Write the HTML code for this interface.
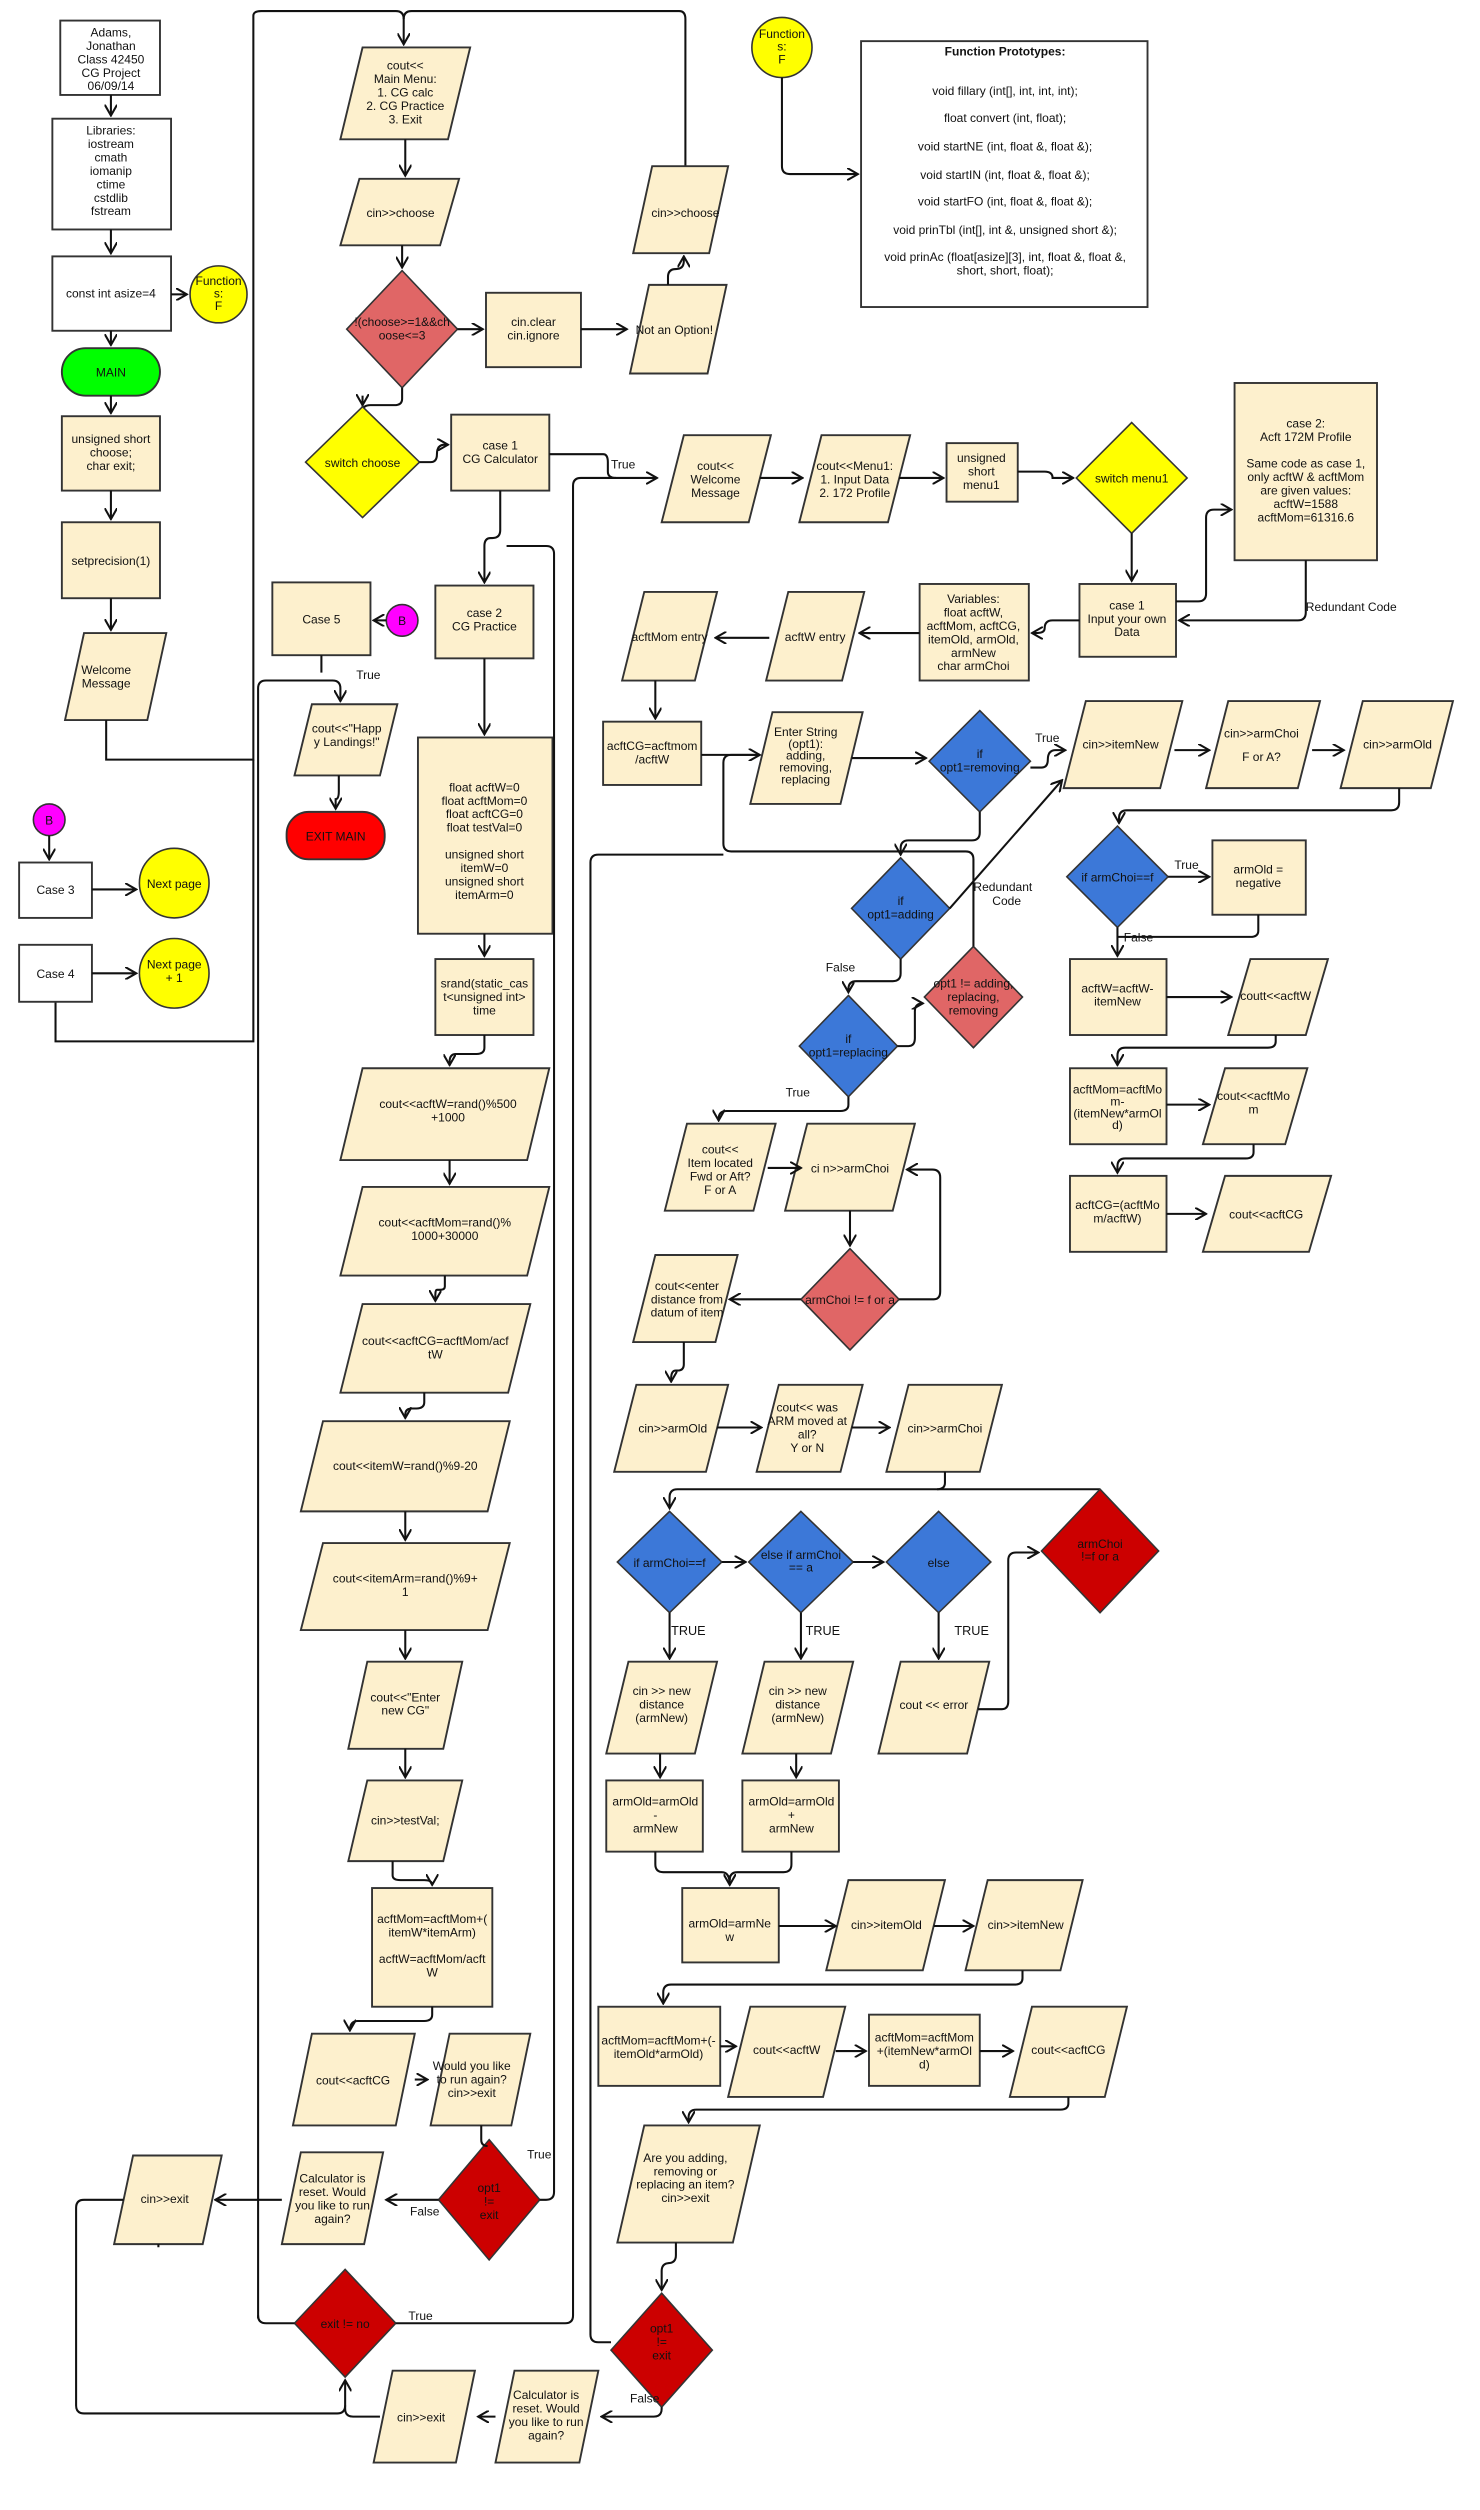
<!DOCTYPE html>
<html><head><meta charset="utf-8"><style>
html,body{margin:0;padding:0;background:#fff;}
svg{display:block;}
text{font-family:"Liberation Sans",sans-serif;font-size:7.6px;fill:#111;text-anchor:middle;}
.s{fill:#fdf0cd;stroke:#333;stroke-width:1.2;}
.w{fill:#fff;stroke:#333;stroke-width:1.2;}
.c{fill:none;stroke:#111;stroke-width:1.3;}
.bl{fill:#3c78d8;stroke:#333;stroke-width:1;}
.rd{fill:#e06666;stroke:#333;stroke-width:1;}
.dr{fill:#cc0000;stroke:#333;stroke-width:1;}
.ye{fill:#ffff00;stroke:#333;stroke-width:1;}
.l{text-anchor:start;}
</style></head><body>
<svg width="1480" height="2510" viewBox="0 0 935 1586" xmlns="http://www.w3.org/2000/svg">
<defs><marker id="a" markerWidth="8" markerHeight="8" refX="7" refY="4" orient="auto" markerUnits="userSpaceOnUse"><path d="M0,0 L7,4 L0,8" fill="none" stroke="#111" stroke-width="1.3"/></marker></defs>

<!-- LEFT COLUMN -->
<rect class="w" x="38" y="13" width="63" height="47"/>
<text x="70" y="23">Adams,<tspan x="70" dy="8.5">Jonathan</tspan><tspan x="70" dy="8.5">Class 42450</tspan><tspan x="70" dy="8.5">CG Project</tspan><tspan x="70" dy="8.5">06/09/14</tspan></text>
<rect class="w" x="33" y="75" width="75" height="70"/>
<text x="70" y="85">Libraries:<tspan x="70" dy="8.5">iostream</tspan><tspan x="70" dy="8.5">cmath</tspan><tspan x="70" dy="8.5">iomanip</tspan><tspan x="70" dy="8.5">ctime</tspan><tspan x="70" dy="8.5">cstdlib</tspan><tspan x="70" dy="8.5">fstream</tspan></text>
<rect class="w" x="33" y="162" width="75" height="47"/>
<text x="70" y="188">const int asize=4</text>
<circle class="ye" cx="138" cy="186" r="18"/>
<text x="138" y="180">Function<tspan x="138" dy="8">s:</tspan><tspan x="138" dy="8">F</tspan></text>
<rect x="39" y="220" width="62" height="30" rx="15" fill="#00ff00" stroke="#333" stroke-width="1.2"/>
<text x="70" y="238">MAIN</text>
<rect class="s" x="39" y="263" width="62" height="47"/>
<text x="70" y="280">unsigned short<tspan x="70" dy="8.5">choose;</tspan><tspan x="70" dy="8.5">char exit;</tspan></text>
<rect class="s" x="39" y="330" width="62" height="48"/>
<text x="70" y="357">setprecision(1)</text>
<polygon class="s" points="53,400 105,400 93,455 41,455"/>
<text x="67" y="426">Welcome<tspan x="67" dy="8.5">Message</tspan></text>

<path class="c" d="M70,60 V73" marker-end="url(#a)"/>
<path class="c" d="M70,145 V160" marker-end="url(#a)"/>
<path class="c" d="M108,186 H118" marker-end="url(#a)"/>
<path class="c" d="M70,209 V218" marker-end="url(#a)"/>
<path class="c" d="M70,250 V261" marker-end="url(#a)"/>
<path class="c" d="M70,310 V328" marker-end="url(#a)"/>
<path class="c" d="M70,378 V398" marker-end="url(#a)"/>
<path class="c" d="M67,455 V480 H160 V10 Q160,7 165,7 H250 Q255,7 255,12 V28" marker-end="url(#a)"/>
<path class="c" d="M255,12 Q255,7 260,7 H429 Q433,7 433,12 V105"/>
<path class="c" d="M35,633 V658 H160 V480"/>

<circle cx="31" cy="518" r="10" fill="#ff00ff" stroke="#333"/>
<text x="31" y="521">B</text>
<rect class="w" x="12" y="545" width="46" height="35"/>
<text x="35" y="565">Case 3</text>
<circle class="ye" cx="110" cy="558" r="22"/>
<text x="110" y="561">Next page</text>
<rect class="w" x="12" y="597" width="46" height="36"/>
<text x="35" y="618">Case 4</text>
<circle class="ye" cx="110" cy="615" r="22"/>
<text x="110" y="612">Next page<tspan x="110" dy="8.5">+ 1</tspan></text>
<path class="c" d="M31,528 V543" marker-end="url(#a)"/>
<path class="c" d="M58,562 H86" marker-end="url(#a)"/>
<path class="c" d="M58,615 H86" marker-end="url(#a)"/>

<!-- CENTER COLUMN -->
<polygon class="s" points="229,30 297,30 283,88 215,88"/>
<text x="256" y="44">cout&lt;&lt;<tspan x="256" dy="8.5">Main Menu:</tspan><tspan x="256" dy="8.5">1. CG calc</tspan><tspan x="256" dy="8.5">2. CG Practice</tspan><tspan x="256" dy="8.5">3. Exit</tspan></text>
<polygon class="s" points="227,113 290,113 278,155 215,155"/>
<text x="253" y="137">cin&gt;&gt;choose</text>
<polygon class="rd" points="254,171 289,208 254,245 219,208"/>
<text x="254" y="206">!(choose&gt;=1&amp;&amp;ch<tspan x="254" dy="8.5">oose&lt;=3</tspan></text>
<rect class="s" x="307" y="185" width="60" height="47"/>
<text x="337" y="206">cin.clear<tspan x="337" dy="8.5">cin.ignore</tspan></text>
<polygon class="s" points="410,180 459,180 447,236 398,236"/>
<text x="426" y="211">Not an Option!</text>
<polygon class="s" points="412,105 460,105 448,160 400,160"/>
<text x="433" y="137">cin&gt;&gt;choose</text>
<path class="c" d="M256,88 V111" marker-end="url(#a)"/>
<path class="c" d="M254,155 V169" marker-end="url(#a)"/>
<path class="c" d="M289,208 H305" marker-end="url(#a)"/>
<path class="c" d="M367,208 H396" marker-end="url(#a)"/>
<path class="c" d="M422,180 V175 Q422,170 427,170 Q432,170 432,165 V162" marker-end="url(#a)"/>
<path class="c" d="M254,245 V252 Q254,256 249,256 H234 Q229,256 229,260 V255" />
<path class="c" d="M229,250 V256" marker-end="url(#a)"/>

<polygon class="ye" points="229,257 265,292 229,327 193,292"/>
<text x="229" y="295">switch choose</text>
<rect class="s" x="285" y="262" width="62" height="48"/>
<text x="316" y="284">case 1<tspan x="316" dy="8.5">CG Calculator</tspan></text>
<path class="c" d="M265,292 H272 Q276,292 276,287 Q276,281 281,281 H283" marker-end="url(#a)"/>
<path class="c" d="M347,287 H381 Q384,287 384,292 V298 Q384,302 389,302 H415" marker-end="url(#a)"/>
<text x="386" y="296" class="l">True</text>

<rect class="s" x="275" y="370" width="62" height="46"/>
<text x="306" y="390">case 2<tspan x="306" dy="8.5">CG Practice</tspan></text>
<path class="c" d="M316,310 V335 Q316,340 311,340 H310 Q306,340 306,345 V368" marker-end="url(#a)"/>
<rect class="s" x="172" y="368" width="62" height="46"/>
<text x="203" y="394">Case 5</text>
<circle cx="254" cy="392" r="10" fill="#ff00ff" stroke="#333"/>
<text x="254" y="395">B</text>
<path class="c" d="M244,392 H236" marker-end="url(#a)"/>
<polygon class="s" points="197,445 251,445 240,490 186,490"/>
<text x="219" y="463">cout&lt;&lt;"Happ<tspan x="219" dy="8.5">y Landings!"</tspan></text>
<path class="c" d="M203,414 V425" />
<path class="c" d="M163,1465 V435 Q163,430 168,430 H210 Q215,430 215,435 V443" marker-end="url(#a)"/>
<text x="225" y="429" class="l">True</text>
<rect x="181" y="513" width="62" height="30" rx="14" fill="#ff0000" stroke="#333" stroke-width="1.2"/>
<text x="212" y="531">EXIT MAIN</text>
<path class="c" d="M214,490 V500 Q214,505 212,505 V511" marker-end="url(#a)"/>

<rect class="s" x="264" y="466" width="85" height="124"/>
<text x="306" y="500">float acftW=0<tspan x="306" dy="8.5">float acftMom=0</tspan><tspan x="306" dy="8.5">float acftCG=0</tspan><tspan x="306" dy="8.5">float testVal=0</tspan><tspan x="306" dy="17">unsigned short</tspan><tspan x="306" dy="8.5">itemW=0</tspan><tspan x="306" dy="8.5">unsigned short</tspan><tspan x="306" dy="8.5">itemArm=0</tspan></text>
<path class="c" d="M306,416 V464" marker-end="url(#a)"/>
<rect class="s" x="275" y="606" width="62" height="48"/>
<text x="306" y="624">srand(static_cas<tspan x="306" dy="8.5">t&lt;unsigned int&gt;</tspan><tspan x="306" dy="8.5">time</tspan></text>
<path class="c" d="M306,590 V604" marker-end="url(#a)"/>
<polygon class="s" points="229,675 347,675 333,733 215,733"/>
<text x="283" y="700">cout&lt;&lt;acftW=rand()%500<tspan x="283" dy="8.5">+1000</tspan></text>
<path class="c" d="M306,654 V662 Q306,666 301,666 H288 Q284,666 284,671 V673" marker-end="url(#a)"/>
<polygon class="s" points="229,750 347,750 333,806 215,806"/>
<text x="281" y="775">cout&lt;&lt;acftMom=rand()%<tspan x="281" dy="8.5">1000+30000</tspan></text>
<path class="c" d="M284,733 V748" marker-end="url(#a)"/>
<polygon class="s" points="229,824 335,824 321,880 215,880"/>
<text x="275" y="850">cout&lt;&lt;acftCG=acftMom/acf<tspan x="275" dy="8.5">tW</tspan></text>
<path class="c" d="M281,806 V813 Q281,815 278,815 H276 Q275,815 275,818 V822" marker-end="url(#a)"/>
<polygon class="s" points="204,898 322,898 308,955 190,955"/>
<text x="256" y="929">cout&lt;&lt;itemW=rand()%9-20</text>
<path class="c" d="M268,880 V886 Q268,890 263,890 H260 Q256,890 256,894 V896" marker-end="url(#a)"/>
<polygon class="s" points="204,975 322,975 308,1030 190,1030"/>
<text x="256" y="1000">cout&lt;&lt;itemArm=rand()%9+<tspan x="256" dy="8.5">1</tspan></text>
<path class="c" d="M256,955 V973" marker-end="url(#a)"/>
<polygon class="s" points="232,1050 292,1050 280,1105 220,1105"/>
<text x="256" y="1075">cout&lt;&lt;"Enter<tspan x="256" dy="8.5">new CG"</tspan></text>
<path class="c" d="M256,1030 V1048" marker-end="url(#a)"/>
<polygon class="s" points="232,1125 292,1125 280,1176 220,1176"/>
<text x="256" y="1153">cin&gt;&gt;testVal;</text>
<path class="c" d="M256,1105 V1123" marker-end="url(#a)"/>
<rect class="s" x="235" y="1193" width="76" height="75"/>
<text x="273" y="1215">acftMom=acftMom+(<tspan x="273" dy="8.5">itemW*itemArm)</tspan><tspan x="273" dy="17">acftW=acftMom/acft</tspan><tspan x="273" dy="8.5">W</tspan></text>
<path class="c" d="M248,1176 V1185 Q248,1188 253,1188 H268 Q273,1188 273,1191" marker-end="url(#a)"/>
<polygon class="s" points="197,1285 262,1285 250,1343 185,1343"/>
<text x="223" y="1317">cout&lt;&lt;acftCG</text>
<path class="c" d="M273,1268 V1273 Q273,1277 268,1277 H226 Q221,1277 221,1283" marker-end="url(#a)"/>
<polygon class="s" points="284,1285 335,1285 323,1343 272,1343"/>
<text x="298" y="1308">Would you like<tspan x="298" dy="8.5">to run again?</tspan><tspan x="298" dy="8.5">cin&gt;&gt;exit</tspan></text>
<path class="c" d="M262,1314 H270" marker-end="url(#a)"/>
<polygon class="dr" points="309,1352 341,1390 309,1428 277,1390"/>
<text x="309" y="1385">opt1<tspan x="309" dy="8.5">!=</tspan><tspan x="309" dy="8.5">exit</tspan></text>
<path class="c" d="M304,1343 V1352 Q304,1356 308,1356" />
<path class="c" d="M341,1390 H345 Q350,1390 350,1385 V350 Q350,345 345,345 H320" />
<text x="333" y="1364" class="l">True</text>
<polygon class="s" points="190,1360 242,1360 230,1418 178,1418"/>
<text x="210" y="1379">Calculator is<tspan x="210" dy="8.5">reset. Would</tspan><tspan x="210" dy="8.5">you like to run</tspan><tspan x="210" dy="8.5">again?</tspan></text>
<path class="c" d="M277,1390 H244" marker-end="url(#a)"/>
<text x="259" y="1400" class="l">False</text>
<polygon class="s" points="84,1362 140,1362 128,1418 72,1418"/>
<text x="104" y="1392">cin&gt;&gt;exit</text>
<path class="c" d="M178,1390 H136" marker-end="url(#a)"/>
<polygon class="dr" points="218,1434 250,1468 218,1502 186,1468"/>
<text x="218" y="1471">exit != no</text>
<path class="c" d="M186,1468 H168 Q163,1468 163,1463"/>
<path class="c" d="M250,1468 H357 Q362,1468 362,1463 V307 Q362,302 367,302 H389"/>
<text x="258" y="1466" class="l">True</text>
<polygon class="s" points="248,1498 300,1498 288,1556 236,1556"/>
<text x="266" y="1530">cin&gt;&gt;exit</text>
<polygon class="s" points="325,1498 378,1498 366,1556 313,1556"/>
<text x="345" y="1516">Calculator is<tspan x="345" dy="8.5">reset. Would</tspan><tspan x="345" dy="8.5">you like to run</tspan><tspan x="345" dy="8.5">again?</tspan></text>
<path class="c" d="M313,1527 H302" marker-end="url(#a)"/>
<path class="c" d="M240,1527 H223 Q218,1527 218,1522 V1504" marker-end="url(#a)"/>
<path class="c" d="M100,1418 V1420 M78,1390 H53 Q48,1390 48,1395 V1520 Q48,1525 53,1525 H213 Q218,1525 218,1520"/>

<!-- RIGHT: top -->
<circle class="ye" cx="494" cy="30" r="19"/>
<text x="494" y="24">Function<tspan x="494" dy="8">s:</tspan><tspan x="494" dy="8">F</tspan></text>
<path class="c" d="M494,49 V105 Q494,110 499,110 H542" marker-end="url(#a)"/>
<rect class="w" x="544" y="26" width="181" height="168"/>
<text x="635" y="35" style="font-weight:bold">Function Prototypes:</text>
<text x="635" y="60">void fillary (int[], int, int, int);</text>
<text x="635" y="77">float convert (int, float);</text>
<text x="635" y="95">void startNE (int, float &amp;, float &amp;);</text>
<text x="635" y="113">void startIN (int, float &amp;, float &amp;);</text>
<text x="635" y="130">void startFO (int, float &amp;, float &amp;);</text>
<text x="635" y="148">void prinTbl (int[], int &amp;, unsigned short &amp;);</text>
<text x="635" y="165">void prinAc (float[asize][3], int, float &amp;, float &amp;,<tspan x="635" dy="8.5">short, short, float);</tspan></text>

<polygon class="s" points="432,275 487,275 473,330 418,330"/>
<text x="452" y="297">cout&lt;&lt;<tspan x="452" dy="8.5">Welcome</tspan><tspan x="452" dy="8.5">Message</tspan></text>
<polygon class="s" points="519,275 575,275 561,330 505,330"/>
<text x="540" y="297">cout&lt;&lt;Menu1:<tspan x="540" dy="8.5">1. Input Data</tspan><tspan x="540" dy="8.5">2. 172 Profile</tspan></text>
<path class="c" d="M480,302 H507" marker-end="url(#a)"/>
<rect class="s" x="598" y="280" width="45" height="37"/>
<text x="620" y="292">unsigned<tspan x="620" dy="8.5">short</tspan><tspan x="620" dy="8.5">menu1</tspan></text>
<path class="c" d="M568,302 H596" marker-end="url(#a)"/>
<polygon class="ye" points="715,267 750,302 715,337 680,302"/>
<text x="715" y="305">switch menu1</text>
<path class="c" d="M643,298 H660 Q665,298 665,302 H678" marker-end="url(#a)"/>
<rect class="s" x="780" y="242" width="90" height="112"/>
<text x="825" y="270">case 2:<tspan x="825" dy="8.5">Acft 172M Profile</tspan><tspan x="825" dy="17">Same code as case 1,</tspan><tspan x="825" dy="8.5">only acftW &amp; acftMom</tspan><tspan x="825" dy="8.5">are given values:</tspan><tspan x="825" dy="8.5">acftW=1588</tspan><tspan x="825" dy="8.5">acftMom=61316.6</tspan></text>
<rect class="s" x="682" y="369" width="61" height="46"/>
<text x="712" y="385">case 1<tspan x="712" dy="8.5">Input your own</tspan><tspan x="712" dy="8.5">Data</tspan></text>
<path class="c" d="M715,337 V367" marker-end="url(#a)"/>
<path class="c" d="M743,380 H757 Q762,380 762,375 V327 Q762,322 767,322 H778" marker-end="url(#a)"/>
<path class="c" d="M825,354 V387 Q825,392 820,392 H745" marker-end="url(#a)"/>
<text x="825" y="386" class="l">Redundant Code</text>
<rect class="s" x="581" y="369" width="69" height="61"/>
<text x="615" y="381">Variables:<tspan x="615" dy="8.5">float acftW,</tspan><tspan x="615" dy="8.5">acftMom, acftCG,</tspan><tspan x="615" dy="8.5">itemOld, armOld,</tspan><tspan x="615" dy="8.5">armNew</tspan><tspan x="615" dy="8.5">char armChoi</tspan></text>
<path class="c" d="M682,392 H665 Q660,392 660,397 Q660,400 655,400 H652" marker-end="url(#a)"/>
<polygon class="s" points="498,374 546,374 532,430 484,430"/>
<text x="515" y="405">acftW entry</text>
<path class="c" d="M581,400 H543" marker-end="url(#a)"/>
<polygon class="s" points="407,374 453,374 439,430 393,430"/>
<text x="423" y="405">acftMom entry</text>
<path class="c" d="M486,403 H452" marker-end="url(#a)"/>
<rect class="s" x="381" y="456" width="62" height="40"/>
<text x="412" y="474">acftCG=acftmom<tspan x="412" dy="8.5">/acftW</tspan></text>
<path class="c" d="M414,430 V454" marker-end="url(#a)"/>
<polygon class="s" points="488,450 545,450 531,508 474,508"/>
<text x="509" y="465">Enter String<tspan x="509" dy="7.5">(opt1):</tspan><tspan x="509" dy="7.5">adding,</tspan><tspan x="509" dy="7.5">removing,</tspan><tspan x="509" dy="7.5">replacing</tspan></text>
<path class="c" d="M443,477 H480" marker-end="url(#a)"/>
<path class="c" d="M538,479 H585" marker-end="url(#a)"/>
<polygon class="bl" points="619,449 651,481 619,513 587,481"/>
<text x="619" y="479">if<tspan x="619" dy="8.5">opt1=removing</tspan></text>
<polygon class="s" points="686,443 747,443 733,498 672,498"/>
<text x="708" y="473">cin&gt;&gt;itemNew</text>
<path class="c" d="M651,485 H658 Q662,485 662,480 Q662,474 667,474 H673" marker-end="url(#a)"/>
<text x="654" y="469" class="l">True</text>
<polygon class="s" points="776,443 834,443 820,498 762,498"/>
<text x="797" y="466">cin&gt;&gt;armChoi<tspan x="797" dy="15">F or A?</tspan></text>
<path class="c" d="M742,474 H764" marker-end="url(#a)"/>
<polygon class="s" points="861,443 918,443 904,498 847,498"/>
<text x="883" y="473">cin&gt;&gt;armOld</text>
<path class="c" d="M829,474 H849" marker-end="url(#a)"/>
<path class="c" d="M884,498 V507 Q884,512 879,512 H712 Q707,512 707,517 V520" marker-end="url(#a)"/>
<polygon class="bl" points="706,522 738,554 706,586 674,554"/>
<text x="706" y="557">if armChoi==f</text>
<rect class="s" x="766" y="531" width="59" height="47"/>
<text x="795" y="552">armOld =<tspan x="795" dy="8.5">negative</tspan></text>
<path class="c" d="M738,554 H764" marker-end="url(#a)"/>
<text x="742" y="549" class="l">True</text>
<path class="c" d="M795,578 V588 Q795,592 790,592 H706"/>
<text x="710" y="595" class="l">False</text>
<path class="c" d="M706,586 V604" marker-end="url(#a)"/>
<rect class="s" x="676" y="606" width="61" height="48"/>
<text x="706" y="627">acftW=acftW-<tspan x="706" dy="8.5">itemNew</tspan></text>
<polygon class="s" points="790,606 839,606 825,654 776,654"/>
<text x="806" y="632">coutt&lt;&lt;acftW</text>
<path class="c" d="M737,630 H778" marker-end="url(#a)"/>
<path class="c" d="M806,654 V658 Q806,662 801,662 H711 Q706,662 706,667 V673" marker-end="url(#a)"/>
<rect class="s" x="676" y="675" width="61" height="48"/>
<text x="706" y="691">acftMom=acftMo<tspan x="706" dy="7.5">m-</tspan><tspan x="706" dy="7.5">(itemNew*armOl</tspan><tspan x="706" dy="7.5">d)</tspan></text>
<polygon class="s" points="774,675 826,675 812,723 760,723"/>
<text x="792" y="695">cout&lt;&lt;acftMo<tspan x="792" dy="8.5">m</tspan></text>
<path class="c" d="M737,698 H764" marker-end="url(#a)"/>
<path class="c" d="M792,723 V728 Q792,732 787,732 H711 Q706,732 706,737 V741" marker-end="url(#a)"/>
<rect class="s" x="676" y="743" width="61" height="48"/>
<text x="706" y="764">acftCG=(acftMo<tspan x="706" dy="8.5">m/acftW)</tspan></text>
<polygon class="s" points="774,743 841,743 827,791 760,791"/>
<text x="800" y="770">cout&lt;&lt;acftCG</text>
<path class="c" d="M737,767 H762" marker-end="url(#a)"/>

<path class="c" d="M619,513 V526 Q619,531 614,531 H574 Q569,531 569,536 V540" marker-end="url(#a)"/>
<polygon class="bl" points="569,542 600,574 569,606 538,574"/>
<text x="569" y="572">if<tspan x="569" dy="8.5">opt1=adding</tspan></text>
<path class="c" d="M600,574 L671,493" marker-end="url(#a)"/>
<text x="615" y="563" class="l">Redundant</text>
<text x="636" y="572">Code</text>
<polygon class="rd" points="615,598 646,630 615,662 584,630"/>
<text x="615" y="624">opt1 != adding,<tspan x="615" dy="8.5">replacing,</tspan><tspan x="615" dy="8.5">removing</tspan></text>
<path class="c" d="M615,598 V543 Q615,538 610,538 H462 Q457,538 457,533 V482 Q457,477 462,477 H480"/>
<path class="c" d="M569,606 V615 Q569,620 564,620 H541 Q536,620 536,625 V627" marker-end="url(#a)"/>
<text x="531" y="614">False</text>
<polygon class="bl" points="536,629 567,661 536,693 505,661"/>
<text x="536" y="659">if<tspan x="536" dy="8.5">opt1=replacing</tspan></text>
<path class="c" d="M567,661 H574 Q578,661 578,656 V639 Q578,634 583,634" marker-end="url(#a)"/>
<path class="c" d="M536,693 V698 Q536,702 531,702 H459 Q454,702 454,707 V708" marker-end="url(#a)"/>
<text x="504" y="693">True</text>
<polygon class="s" points="434,710 490,710 476,765 420,765"/>
<text x="455" y="729">cout&lt;&lt;<tspan x="455" dy="8.5">Item located</tspan><tspan x="455" dy="8.5">Fwd or Aft?</tspan><tspan x="455" dy="8.5">F or A</tspan></text>
<polygon class="s" points="510,710 578,710 564,765 496,765"/>
<text x="537" y="741">ci n&gt;&gt;armChoi</text>
<path class="c" d="M485,738 H506" marker-end="url(#a)"/>
<path class="c" d="M537,765 V787" marker-end="url(#a)"/>
<polygon class="rd" points="537,789 568,821 537,853 506,821"/>
<text x="537" y="824">armChoi != f or a</text>
<path class="c" d="M568,821 H590 Q594,821 594,816 V744 Q594,739 589,739 H573" marker-end="url(#a)"/>
<polygon class="s" points="414,793 466,793 452,848 400,848"/>
<text x="434" y="815">cout&lt;&lt;enter<tspan x="434" dy="8.5">distance from</tspan><tspan x="434" dy="8.5">datum of item</tspan></text>
<path class="c" d="M506,821 H461" marker-end="url(#a)"/>
<path class="c" d="M432,848 V862 Q432,866 428,866 H427 Q424,866 424,871 V873" marker-end="url(#a)"/>
<polygon class="s" points="402,875 460,875 446,930 388,930"/>
<text x="425" y="905">cin&gt;&gt;armOld</text>
<polygon class="s" points="492,875 545,875 531,930 478,930"/>
<text x="510" y="892">cout&lt;&lt; was<tspan x="510" dy="8.5">ARM moved at</tspan><tspan x="510" dy="8.5">all?</tspan><tspan x="510" dy="8.5">Y or N</tspan></text>
<path class="c" d="M453,902 H481" marker-end="url(#a)"/>
<polygon class="s" points="574,875 633,875 619,930 560,930"/>
<text x="597" y="905">cin&gt;&gt;armChoi</text>
<path class="c" d="M538,902 H562" marker-end="url(#a)"/>
<path class="c" d="M597,930 V937 Q597,941 592,941 H428 Q423,941 423,946 V953" marker-end="url(#a)"/>
<path class="c" d="M592,941 H695"/>

<polygon class="bl" points="423,955 456,987 423,1019 390,987"/>
<text x="423" y="990">if armChoi==f</text>
<polygon class="bl" points="506,955 539,987 506,1019 473,987"/>
<text x="506" y="985">else if armChoi<tspan x="506" dy="8">== a</tspan></text>
<polygon class="bl" points="593,955 626,987 593,1019 560,987"/>
<text x="593" y="990">else</text>
<polygon class="dr" points="695,941 732,980 695,1019 658,980"/>
<text x="695" y="978">armChoi<tspan x="695" dy="8">!=f or a</tspan></text>
<path class="c" d="M456,987 H471" marker-end="url(#a)"/>
<path class="c" d="M539,987 H558" marker-end="url(#a)"/>
<path class="c" d="M423,1019 V1048" marker-end="url(#a)"/>
<path class="c" d="M506,1019 V1048" marker-end="url(#a)"/>
<path class="c" d="M593,1019 V1048" marker-end="url(#a)"/>
<text x="424" y="1033" class="l" style="font-size:8px">TRUE</text>
<text x="509" y="1033" class="l" style="font-size:8px">TRUE</text>
<text x="603" y="1033" class="l" style="font-size:8px">TRUE</text>
<polygon class="s" points="397,1050 453,1050 439,1108 383,1108"/>
<text x="418" y="1071">cin &gt;&gt; new<tspan x="418" dy="8.5">distance</tspan><tspan x="418" dy="8.5">(armNew)</tspan></text>
<polygon class="s" points="483,1050 539,1050 525,1108 469,1108"/>
<text x="504" y="1071">cin &gt;&gt; new<tspan x="504" dy="8.5">distance</tspan><tspan x="504" dy="8.5">(armNew)</tspan></text>
<polygon class="s" points="569,1050 625,1050 611,1108 555,1108"/>
<text x="590" y="1080">cout &lt;&lt; error</text>
<path class="c" d="M618,1080 H633 Q637,1080 637,1075 V986 Q637,981 642,981 H656" marker-end="url(#a)"/>
<rect class="s" x="383" y="1125" width="61" height="45"/>
<text x="414" y="1141">armOld=armOld<tspan x="414" dy="8.5">-</tspan><tspan x="414" dy="8.5">armNew</tspan></text>
<rect class="s" x="469" y="1125" width="61" height="45"/>
<text x="500" y="1141">armOld=armOld<tspan x="500" dy="8.5">+</tspan><tspan x="500" dy="8.5">armNew</tspan></text>
<path class="c" d="M417,1108 V1123" marker-end="url(#a)"/>
<path class="c" d="M503,1108 V1123" marker-end="url(#a)"/>
<path class="c" d="M414,1170 V1178 Q414,1183 419,1183 H456 Q461,1183 461,1191 M500,1170 V1178 Q500,1183 495,1183 H466 Q461,1183 461,1188" />
<path class="c" d="M461,1185 V1191" marker-end="url(#a)"/>
<rect class="s" x="431" y="1193" width="61" height="47"/>
<text x="461" y="1218">armOld=armNe<tspan x="461" dy="8.5">w</tspan></text>
<polygon class="s" points="536,1188 597,1188 583,1245 522,1245"/>
<text x="560" y="1219">cin&gt;&gt;itemOld</text>
<path class="c" d="M492,1217 H528" marker-end="url(#a)"/>
<polygon class="s" points="624,1188 684,1188 670,1245 610,1245"/>
<text x="648" y="1219">cin&gt;&gt;itemNew</text>
<path class="c" d="M590,1217 H615" marker-end="url(#a)"/>
<path class="c" d="M646,1245 V1250 Q646,1254 641,1254 H424 Q419,1254 419,1259 V1266" marker-end="url(#a)"/>
<rect class="s" x="378" y="1268" width="77" height="50"/>
<text x="416" y="1292">acftMom=acftMom+(-<tspan x="416" dy="8.5">itemOld*armOld)</tspan></text>
<polygon class="s" points="474,1268 534,1268 520,1325 460,1325"/>
<text x="497" y="1298">cout&lt;&lt;acftW</text>
<path class="c" d="M455,1293 H465" marker-end="url(#a)"/>
<rect class="s" x="549" y="1273" width="70" height="45"/>
<text x="584" y="1290">acftMom=acftMom<tspan x="584" dy="8.5">+(itemNew*armOl</tspan><tspan x="584" dy="8.5">d)</tspan></text>
<path class="c" d="M528,1296 H547" marker-end="url(#a)"/>
<polygon class="s" points="652,1268 712,1268 698,1325 638,1325"/>
<text x="675" y="1298">cout&lt;&lt;acftCG</text>
<path class="c" d="M619,1296 H640" marker-end="url(#a)"/>
<path class="c" d="M675,1325 V1329 Q675,1333 670,1333 H440 Q435,1333 435,1338 V1341" marker-end="url(#a)"/>
<polygon class="s" points="407,1343 480,1343 463,1417 390,1417"/>
<text x="433" y="1366">Are you adding,<tspan x="433" dy="8.5">removing or</tspan><tspan x="433" dy="8.5">replacing an item?</tspan><tspan x="433" dy="8.5">cin&gt;&gt;exit</tspan></text>
<path class="c" d="M427,1417 V1425 Q427,1430 422,1430 H423 Q418,1430 418,1435 V1447" marker-end="url(#a)"/>
<polygon class="dr" points="418,1449 450,1485 418,1521 386,1485"/>
<text x="418" y="1474">opt1<tspan x="418" dy="8.5">!=</tspan><tspan x="418" dy="8.5">exit</tspan></text>
<path class="c" d="M386,1480 H378 Q373,1480 373,1475 V545 Q373,540 378,540 H457"/>
<path class="c" d="M418,1521 V1522 Q418,1527 413,1527 H380" marker-end="url(#a)"/>
<text x="398" y="1518" class="l">False</text>
</svg>
</body></html>
